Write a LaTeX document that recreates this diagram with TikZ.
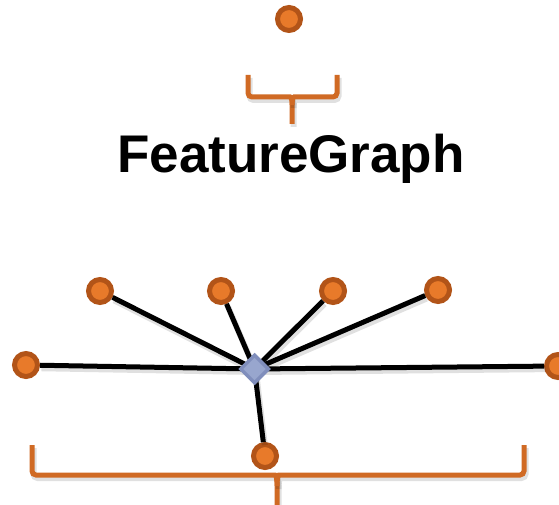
\documentclass[tikz,border=0pt]{standalone}
\usepackage{fontspec}
\setmainfont{Liberation Sans}
\usetikzlibrary{shapes.geometric}
\definecolor{dotfill}{RGB}{232,122,42}
\definecolor{dotline}{RGB}{178,84,24}
\definecolor{bracecol}{RGB}{208,106,36}
\definecolor{hubfill}{RGB}{152,166,206}
\definecolor{hubline}{RGB}{128,142,188}
\tikzset{
  softshadow/.style={preaction={draw=black, draw opacity=0.12, line width=6pt, transform canvas={shift={(1.5,3)}}}},
  dot/.style={circle, fill=dotfill, draw=dotline, line width=5pt, minimum size=23pt, inner sep=0pt},
  hub/.style={diamond, fill=hubfill, draw=hubline, line width=3.5pt, minimum size=29pt, inner sep=0pt},
  link/.style={line width=5pt, black, softshadow},
  bracket/.style={draw=bracecol, line width=5pt, rounded corners=4pt, softshadow}
}
\begin{document}
\begin{tikzpicture}[x=1pt, y=-1pt]
\useasboundingbox (0,0) rectangle (559,505);

% title
\node[font=\bfseries\fontsize{53}{60}\selectfont, anchor=base] (title) at (291,173) {FeatureGraph};

% top single feature and its brace
\node[dot] (top) at (289,19) {};
\draw[bracket] (248,75) -- (248,97) -- (286,97) .. controls (291,97) and (292,100) .. (292,105) -- (292,124);
\draw[bracket] (337,75) -- (337,97) -- (298,97) .. controls (293,97) and (292,100) .. (292,105);

% graph
\node[dot] (nl) at (26,365) {};
\node[dot] (nr) at (558,366) {};
\node[dot] (t1) at (100,291) {};
\node[dot] (t2) at (221,291) {};
\node[dot] (t3) at (333,291) {};
\node[dot] (t4) at (438,290) {};
\node[dot] (nb) at (265,456) {};

\foreach \n in {nl,nr,t1,t2,t3,t4,nb}
  \draw[link] (254.5,369) -- (\n);
\node[hub] (hub) at (254.5,369) {};

% bottom brace
\draw[bracket] (32,445) -- (32,475) -- (271,475) .. controls (276,475) and (277,479) .. (277,486) -- (277,510);
\draw[bracket] (524,445) -- (524,475) -- (283,475) .. controls (278,475) and (277,479) .. (277,486);
\end{tikzpicture}
\end{document}
